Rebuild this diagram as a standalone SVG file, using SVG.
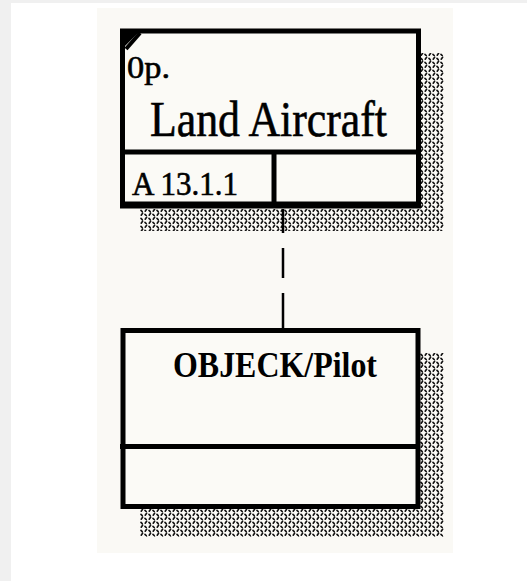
<svg xmlns="http://www.w3.org/2000/svg" width="527" height="581" viewBox="0 0 527 581">
<style>
.box{fill:#fbfaf6;stroke:#000;stroke-width:5}
.div{stroke:#000;stroke-width:5}
.shadow{fill:url(#hatch)}
.t{font-family:"Liberation Serif","Times New Roman",serif;fill:#000}
.reg{stroke:#000;stroke-width:0.6}
.conn{stroke:#000;stroke-width:2.5;fill:none}
</style>
<defs>
<pattern id="hatch" width="8" height="8" patternUnits="userSpaceOnUse">
<rect width="8" height="8" fill="#fbfaf6"/>
<path d="M1.2 3.2 L2.6 1.2 M5.2 7.2 L6.6 5.2 M5 2.4 L6.2 3.6 M1 6.4 L2.2 7.6" stroke="#111" stroke-width="1.6" stroke-linecap="round"/>
</pattern>
</defs>
<rect width="527" height="581" fill="#f0f0f0"/>
<rect x="11" y="3" width="516" height="578" fill="#ffffff"/>
<rect x="97" y="8" width="356" height="545" fill="#faf9f5"/>
<g id="node-land-aircraft">
<rect class="shadow" x="421" y="53" width="23" height="178"/>
<rect class="shadow" x="140" y="209" width="304" height="22"/>
<rect class="box" x="122.5" y="31" width="296" height="175"/>
<line class="div" x1="120" y1="152" x2="421" y2="152"/>
<line class="div" x1="274" y1="152" x2="274" y2="206"/>
<line class="div" x1="120" y1="204" x2="421" y2="204"/>
<path d="M124 33 L138 33 L124 47 Z" fill="#000"/>
<line x1="126" y1="49" x2="140" y2="33" stroke="#000" stroke-width="4"/>
<text class="t reg" x="127" y="78" font-size="32" textLength="43" lengthAdjust="spacingAndGlyphs">0p.</text>
<text class="t reg" x="150" y="136" font-size="50" textLength="237" lengthAdjust="spacingAndGlyphs">Land Aircraft</text>
<text class="t reg" x="132" y="195" font-size="33" textLength="106" lengthAdjust="spacingAndGlyphs">A 13.1.1</text>
</g>
<g id="node-objeck-pilot">
<rect class="shadow" x="420" y="353" width="24" height="184"/>
<rect class="shadow" x="140" y="509" width="304" height="28"/>
<rect class="box" x="123" y="330.5" width="295" height="176"/>
<line class="div" x1="120" y1="446.5" x2="420" y2="446.5"/>
<text class="t" x="173" y="377" font-size="35" font-weight="bold" textLength="204" lengthAdjust="spacingAndGlyphs">OBJECK/Pilot</text>
</g>
<g id="connectors">
<line class="conn" x1="283" y1="209" x2="283" y2="328" stroke-dasharray="24 15 30 15 40"/>
</g>
</svg>
